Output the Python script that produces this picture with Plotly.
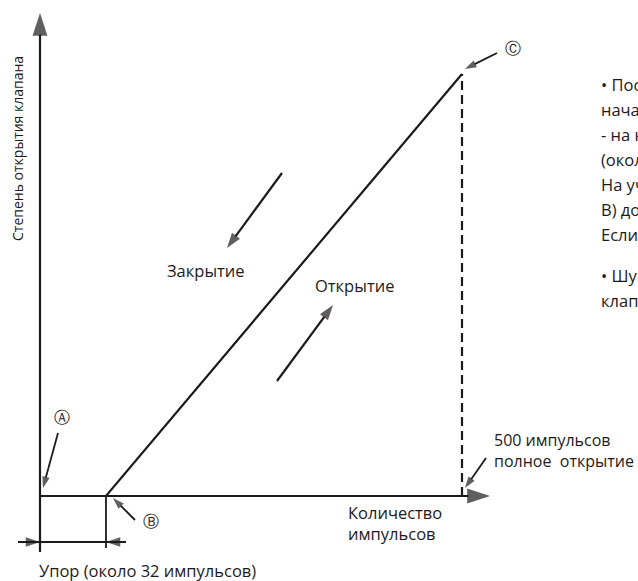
import plotly.graph_objects as go

# Diagram coordinates: origin at the axis corner, x to the right, y upward (schematic units)
INK = "#1e1a1b"
FONT = "Open Sans"
TS = 16.5  # body text size

# Valve opening characteristic: start (A), stopper end (B), full open (C)
valve_x = [0, 66, 422]
valve_y = [0, 0, 422]

# Full-open dashed marker (500 pulses)
full_open_x = [422, 422]
full_open_y = [0, 422]

# Stopper extension tick below B
stop_tick_x = [66, 66]
stop_tick_y = [0, -52]

# Dimension line for stopper zone
dim_x = [-22, 86]
dim_y = [-46, -46]

# Arrows: (name, x0, y0, x1, y1, head size, width)
arrows = [
    ("y_axis", 0, -56, 0, 483, 24, 2.2),
    ("x_axis", 0, 0, 450, 0, 24, 2.2),
    ("closing", 242, 323, 187, 248, 16, 2.2),
    ("opening", 237, 115, 293, 191, 16, 2.2),
    ("A", 18, 63, 3, 8, 12, 1.8),
    ("B", 95, -24, 73, -2, 12, 1.8),
    ("C", 457, 443, 425, 427, 12, 1.8),
    ("500", 446, 38, 425, 8, 12, 1.8),
    ("dim_left", -22, -46, 0, -46, 15, 2),
    ("dim_right", 86, -46, 66, -46, 15, 2),
]

# Text labels: (text, x, y, xanchor, size, family, angle)
labels = [
    ("Закрытие", 207, 226, "right", TS, FONT, 0),
    ("Открытие", 273, 211, "left", TS, FONT, 0),
    ("Количество<br>импульсов", 306, -27, "left", TS, FONT, 0),
    ("500 импульсов<br>полное  открытие", 452, 46, "left", 16, FONT, 0),
    ("Упор (около 32 импульсов)", -3, -74, "left", TS, FONT, 0),
    ("Ⓐ", 22, 79, "center", 16, "DejaVu Sans", 0),
    ("Ⓑ", 111, -25, "center", 16, "DejaVu Sans", 0),
    ("Ⓒ", 473, 448, "center", 16, "DejaVu Sans", 0),
    ("Степень открытия клапана", -23, 347, "center", 14, FONT, -90),
]

# Side note text (cut off by the picture edge)
note_lines = [
    "• После включения питания для установки",
    "начального положения клапана подаётся",
    "- на клапан сигнал закрытия 2200 импульсов",
    "(около 2200 импульсов).",
    "На участке от упора (точка А до точки",
    "В) доносится щелчок.",
    "Если щелчок не слышен, клапан неисправен.",
    "• Шум при работе",
    "клапана не является неисправностью.",
]
note_x = 559
note_y = [412, 387, 362, 337, 312, 287, 262, 221, 196]

fig = go.Figure()

fig.add_trace(go.Scatter(x=valve_x, y=valve_y, mode="lines",
                         line=dict(color=INK, width=2.2), hoverinfo="skip"))
fig.add_trace(go.Scatter(x=full_open_x, y=full_open_y, mode="lines",
                         line=dict(color=INK, width=2.2, dash="9px,5px"), hoverinfo="skip"))
fig.add_trace(go.Scatter(x=stop_tick_x, y=stop_tick_y, mode="lines",
                         line=dict(color=INK, width=1.8), hoverinfo="skip"))
fig.add_trace(go.Scatter(x=dim_x, y=dim_y, mode="lines",
                         line=dict(color=INK, width=1.8), hoverinfo="skip"))

for name, x0, y0, x1, y1, hs, w in arrows:
    fig.add_trace(go.Scatter(
        x=[x0, x1], y=[y0, y1], mode="lines+markers",
        line=dict(color=INK, width=w),
        marker=dict(symbol="arrow", size=[0, hs], color=INK, angleref="previous",
                    line=dict(width=0)),
        hoverinfo="skip", name=name))

for text, x, y, xa, size, fam, ang in labels:
    fig.add_annotation(x=x, y=y, xref="x", yref="y", text=text, showarrow=False,
                       xanchor=xa, yanchor="middle", textangle=ang, align="left",
                       font=dict(family=fam, size=size, color=INK))

for t, y in zip(note_lines, note_y):
    fig.add_annotation(x=note_x, y=y, xref="x", yref="y", text=t, showarrow=False,
                       xanchor="left", yanchor="middle",
                       font=dict(family=FONT, size=TS, color=INK))

fig.update_layout(
    width=638, height=581,
    margin=dict(l=0, r=0, t=0, b=0),
    paper_bgcolor="white", plot_bgcolor="white",
    showlegend=False,
    xaxis=dict(range=[-40, 598], visible=False, fixedrange=True),
    yaxis=dict(range=[-85, 496], visible=False, fixedrange=True),
)

fig.write_html("out.html", config={"displayModeBar": False},
               post_script="document.body.style.margin='0px';document.body.style.overflow='hidden';")
